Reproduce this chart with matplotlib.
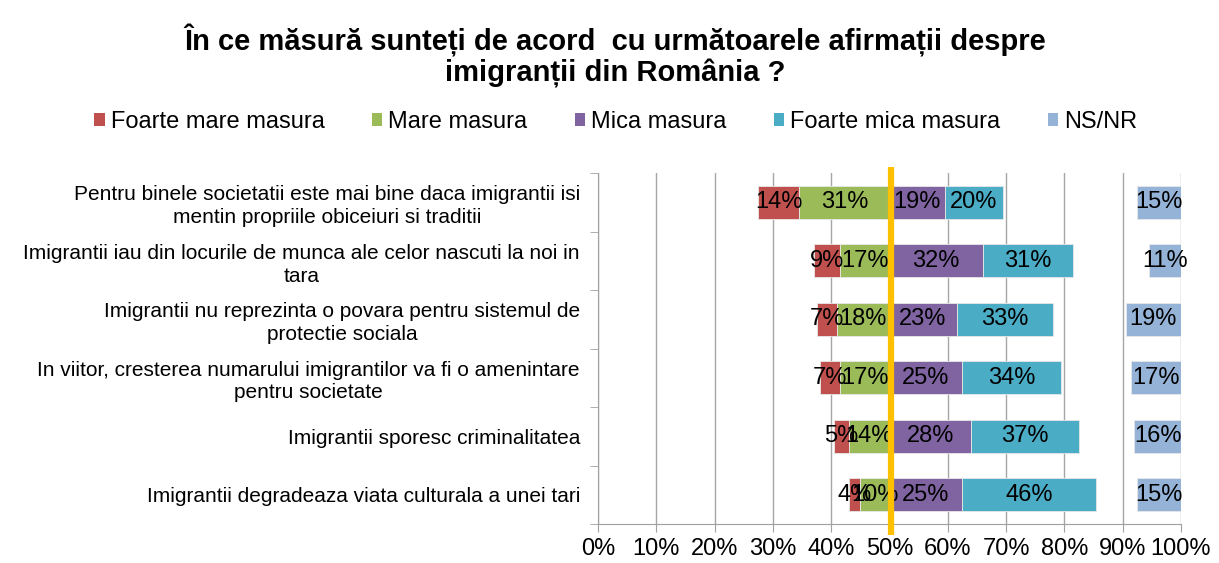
import numpy as np
import matplotlib.pyplot as plt
from matplotlib.patches import Patch

# survey data (percent)
categories = [
    "Pentru binele societatii este mai bine daca imigrantii isi\nmentin propriile obiceiuri si traditii",
    "Imigrantii iau din locurile de munca ale celor nascuti la noi in\ntara",
    "Imigrantii nu reprezinta o povara pentru sistemul de\nprotectie sociala",
    "In viitor, cresterea numarului imigrantilor va fi o amenintare\npentru societate",
    "Imigrantii sporesc criminalitatea",
    "Imigrantii degradeaza viata culturala a unei tari",
]
foarte_mare = [14, 9, 7, 7, 5, 4]
mare = [31, 17, 18, 17, 14, 10]
mica = [19, 32, 23, 25, 28, 25]
foarte_mica = [20, 31, 33, 34, 37, 46]
ns_nr = [15, 11, 19, 17, 16, 15]

series_names = ["Foarte mare masura", "Mare masura", "Mica masura",
                "Foarte mica masura", "NS/NR"]
colors = ["#C0504D", "#9BBB59", "#8064A2", "#4BACC6", "#95B3D7"]

plt.rcParams['font.family'] = ['Liberation Sans', 'DejaVu Sans']

fig = plt.figure(figsize=(12.19, 5.63), dpi=100)
ax = fig.add_axes([598/1219, 1-524/563, 583/1219, 351/563])

y = np.arange(len(categories))
h = 0.56
fm = np.array(foarte_mare)
m = np.array(mare)
mi = np.array(mica)
fmi = np.array(foarte_mica)
ns = np.array(ns_nr)

# diverging layout around 50%, widths drawn at half scale
start = 50 - (fm + m) / 2
segments = [fm, m, mi, fmi]
left = start.copy()
for vals, col in zip(segments, colors[:4]):
    w = vals / 2
    ax.barh(y, w, left=left, height=h, color=col, edgecolor='#E8E8E8', linewidth=0.6, zorder=3)
    for yi, l, wi, v in zip(y, left, w, vals):
        ax.text(l + wi / 2, yi, f"{v}%", ha='center', va='center', fontsize=17, zorder=5)
    left = left + w

# NS/NR at right edge
ax.barh(y, ns / 2, left=100 - ns / 2, height=h, color=colors[4], edgecolor='#E8E8E8',
        linewidth=0.6, zorder=3)
for yi, v in zip(y, ns):
    ax.text(100 - v / 4, yi, f"{v}%", ha='center', va='center', fontsize=17, zorder=5)

# 50% reference line
ax.plot([50.3, 50.3], [-0.6, 5.69], color='#FFC000', linewidth=4.5, zorder=6, clip_on=False,
        solid_capstyle='butt')

ax.set_xlim(0, 100)
ax.set_ylim(5.5, -0.5)
ax.set_xticks(np.arange(0, 101, 10))
ax.set_xticklabels([f"{v}%" for v in range(0, 101, 10)], fontsize=17)
ax.set_yticks(y)
ax.set_yticklabels(categories, fontsize=15, multialignment='center', linespacing=1.25)
ax.set_yticks(np.arange(-0.5, 6, 1), minor=True)
ax.tick_params(axis='y', which='major', length=0, pad=13)
ax.tick_params(axis='y', which='minor', length=6, color='#A0A0A0')
ax.tick_params(axis='x', length=6, color='#A0A0A0', pad=4)
ax.xaxis.grid(True, color='#A6A6A6', linewidth=1, zorder=0)
ax.set_axisbelow(True)
for s in ['top', 'right']:
    ax.spines[s].set_visible(False)
for s in ['left', 'bottom']:
    ax.spines[s].set_color('#A0A0A0')

handles = [Patch(facecolor=c, edgecolor='none') for c in colors]
fig.legend(handles, series_names, loc='center', bbox_to_anchor=(0.505, 0.783), ncol=5,
           frameon=False, fontsize=17, handlelength=0.45, handleheight=0.45,
           handletextpad=0.25, columnspacing=2.0)

fig.text(0.505, 0.90, "În ce măsură sunteți de acord  cu următoarele afirmații despre\nimigranții din România ?",
         ha='center', va='center', fontsize=21, fontweight='bold',
         family=['Liberation Sans Narrow', 'Liberation Sans'], linespacing=1.1)

fig.savefig('out.png', dpi=100)
